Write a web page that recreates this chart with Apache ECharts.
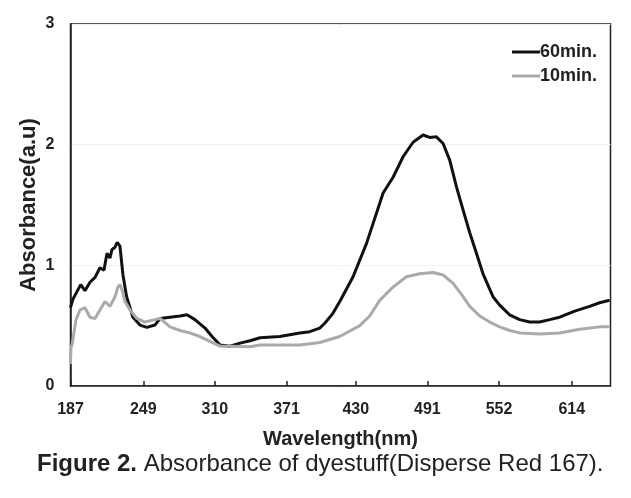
<!DOCTYPE html>
<html>
<head>
<meta charset="utf-8">
<script src="https://cdn.jsdelivr.net/npm/echarts@6/dist/echarts.min.js"></script>
<style>html,body{margin:0;padding:0;background:#fff;}#c{width:631px;height:498px;}</style>
</head>
<body>
<div id="c"></div>
<script>
var xTicks = [187, 249, 310, 371, 430, 491, 552, 614];
var yTicks = [0, 1, 2, 3];
var seriesNames = ['60min.', '10min.'];
var wl60 = [187,189.1,195.7,199.3,203.6,207.9,212.1,215.5,218.1,220.6,222.3,224.9,226.8,229.1,231.7,234.8,240.2,246.2,252.1,258.9,263.3,271.7,280.3,286.2,293,301.6,307.6,314.4,322.9,331.4,339.9,348.5,365.3,382.3,390.8,399.3,403.6,410.4,416.4,427.7,439.1,453.3,461.8,470.3,478.8,487.3,493,498.7,504.4,510.1,515.8,521.4,527.1,532.8,538.4,546.9,552.6,561.1,569.6,578.1,586.6,595.2,603.7,616.5,629.2,637.7,646.2];
var abs60 = [0.65,0.72,0.84,0.79,0.86,0.90,0.98,0.96,1.10,1.06,1.13,1.15,1.19,1.16,0.92,0.74,0.57,0.505,0.486,0.505,0.56,0.57,0.58,0.59,0.55,0.48,0.41,0.34,0.33,0.355,0.375,0.40,0.41,0.44,0.45,0.48,0.52,0.60,0.70,0.905,1.18,1.60,1.73,1.90,2.02,2.08,2.06,2.065,2.01,1.87,1.65,1.46,1.27,1.10,0.93,0.74,0.67,0.59,0.55,0.53,0.53,0.55,0.57,0.62,0.66,0.69,0.71];
var wl10 = [187,187.4,188.3,191.7,195.1,199.3,203.6,207.9,212.1,216.4,220.6,224.9,227.4,229.1,230.8,233.4,237.7,243.6,250.4,258.9,263.3,271.7,280.3,288.7,297.2,305.7,314.4,322.9,339.9,348.5,365.3,382.3,399.3,416.4,433.4,441.9,450.4,461.8,473.2,484.5,495.9,504.4,513,521.4,527.1,535.6,544.1,552.6,561.1,569.6,586.6,603.7,620.7,637.7,646.2];
var abs10 = [0.18,0.32,0.34,0.55,0.63,0.65,0.57,0.56,0.63,0.70,0.66,0.74,0.82,0.84,0.80,0.70,0.63,0.56,0.53,0.55,0.56,0.49,0.46,0.44,0.41,0.37,0.33,0.33,0.325,0.34,0.34,0.34,0.36,0.41,0.50,0.58,0.71,0.82,0.905,0.93,0.94,0.92,0.85,0.74,0.66,0.58,0.53,0.49,0.46,0.44,0.43,0.44,0.47,0.49,0.49];

function pairs(xs, ys) { return xs.map(function (x, i) { return [x, ys[i]]; }); }

var FONT = 'Liberation Sans, Arial, sans-serif';
var chart = echarts.init(document.getElementById('c'));
chart.setOption({
  animation: false,
  backgroundColor: '#fff',
  textStyle: { fontFamily: FONT },
  grid: { left: 70.5, right: 20.5, top: 24, bottom: 112, show: true, borderColor: '#222', borderWidth: 1.5 },
  legend: {
    orient: 'vertical', right: 29, top: 38, itemWidth: 28, itemHeight: 3, itemGap: 6,
    data: [{ name: seriesNames[0], icon: 'rect' }, { name: seriesNames[1], icon: 'rect' }],
    textStyle: { fontWeight: 'bold', fontSize: 18, color: '#222', padding: [0, 0, 0, -5] }
  },
  xAxis: {
    type: 'value', min: 187, max: 647,
    name: 'Wavelength(nm)', nameLocation: 'middle', nameGap: 43, nameMoveOverlap: false,
    nameTextStyle: { fontWeight: 'bold', fontSize: 20, color: '#222' },
    axisLine: { lineStyle: { color: '#222', width: 1.5 } },
    axisTick: { show: true, inside: true, length: 5, customValues: xTicks, lineStyle: { color: '#222', width: 1.5 } },
    axisLabel: { customValues: xTicks, fontWeight: 'bold', fontSize: 16, color: '#222', margin: 16 },
    splitLine: { show: false }
  },
  yAxis: {
    type: 'value', min: 0, max: 3, interval: 1,
    name: 'Absorbance(a.u)', nameLocation: 'middle', nameGap: 31, nameMoveOverlap: false,
    nameTextStyle: { fontWeight: 'bold', fontSize: 22, color: '#222' },
    axisLine: { show: true, lineStyle: { color: '#222', width: 1.5 } },
    axisTick: { show: false },
    axisLabel: { fontWeight: 'bold', fontSize: 16, color: '#222', margin: 16,
      formatter: function (v) { return yTicks.indexOf(v) >= 0 ? String(v) : ''; } },
    splitLine: { show: true, lineStyle: { color: '#f0f0f0', width: 1 } }
  },
  series: [
    { name: seriesNames[0], type: 'line', data: pairs(wl60, abs60), showSymbol: false, symbol: 'none',
      lineStyle: { color: '#111', width: 3 }, itemStyle: { color: '#111' } },
    { name: seriesNames[1], type: 'line', data: pairs(wl10, abs10), showSymbol: false, symbol: 'none',
      lineStyle: { color: '#aaaaaa', width: 3 }, itemStyle: { color: '#aaaaaa' } }
  ],
  graphic: [{
    type: 'text', left: 37, top: 452,
    style: {
      text: '{b|Figure 2.} Absorbance of dyestuff(Disperse Red 167).',
      fontFamily: FONT, fontSize: 24, fill: '#222',
      rich: { b: { fontWeight: 'bold', fontSize: 24, fill: '#222', fontFamily: FONT } }
    }
  }]
});
</script>
</body>
</html>
